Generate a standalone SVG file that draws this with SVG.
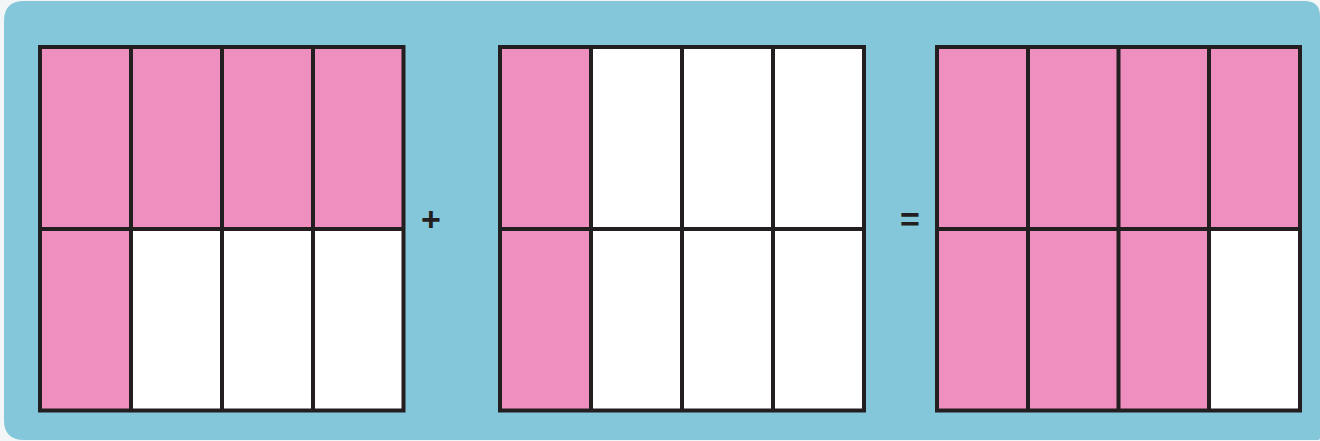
<svg xmlns="http://www.w3.org/2000/svg" width="1320" height="441" viewBox="0 0 1320 441">
<style>
.p{fill:#ee8fbf}
.w{fill:#ffffff}
.g{fill:none;stroke:#231f20;stroke-width:4}
.op{font-family:"Liberation Sans",Arial,sans-serif;font-weight:bold;font-size:34px;fill:#231f20;text-anchor:middle}
</style>
<rect x="0" y="0" width="1320" height="441" fill="#f3f6f7"/>
<path d="M24,1 H1302 Q1320,1 1320,18 V441 H4 V440 Q4,440 4,440 Z" fill="none"/>
<path d="M24,1 H1304 Q1320,1 1320,16 V438 Q1320,440 1318,440 H24 Q4,440 4,420 V21 Q4,1 24,1 Z" fill="#84c7da"/>
<g id="fraction1">
<rect class="p" x="40" y="47" width="363.5" height="182"/>
<rect class="p" x="40" y="229" width="91" height="181.5"/>
<rect class="w" x="131" y="229" width="272.5" height="181.5"/>
<path class="g" d="M40,47 H403.5 V410.5 H40 Z M131,47 V410.5 M222,47 V410.5 M313,47 V410.5 M40,229 H403.5"/>
</g>
<g id="plus"><text class="op" x="431" y="231">+</text></g>
<g id="fraction2">
<rect class="p" x="500" y="47" width="91" height="363.5"/>
<rect class="w" x="591" y="47" width="273" height="363.5"/>
<path class="g" d="M500,47 H864 V410.5 H500 Z M591,47 V410.5 M682,47 V410.5 M773,47 V410.5 M500,229 H864"/>
</g>
<g id="equals"><text class="op" x="910" y="231">=</text></g>
<g id="fraction3">
<rect class="p" x="937" y="47" width="363" height="363.5"/>
<rect class="w" x="1209" y="229" width="91" height="181.5"/>
<path class="g" d="M937,47 H1300 V410.5 H937 Z M1028,47 V410.5 M1118.5,47 V410.5 M1209,47 V410.5 M937,229 H1300"/>
</g>
<g id="connectors"></g>
</svg>
